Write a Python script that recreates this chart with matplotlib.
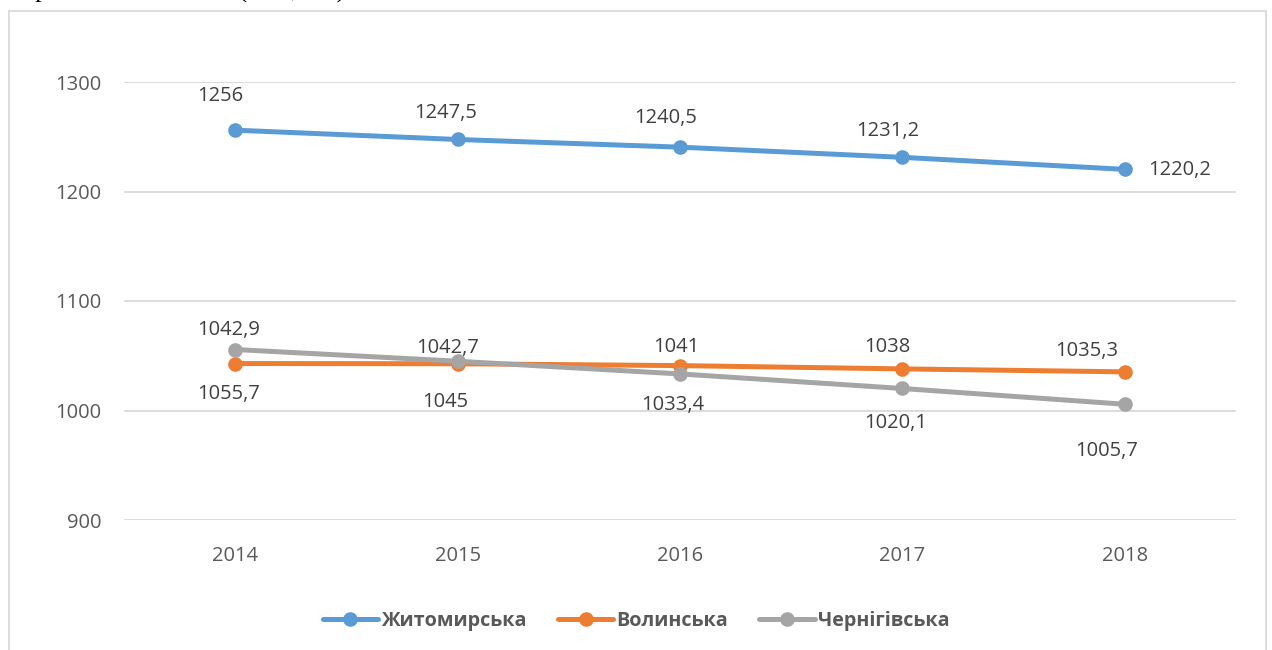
import matplotlib
matplotlib.use("Agg")
import matplotlib.pyplot as plt
from matplotlib.patches import Rectangle

plt.rcParams['font.family'] = ['Open Sans', 'DejaVu Sans']

# ---- data ----
years = ["2014", "2015", "2016", "2017", "2018"]
series_names = ["Житомирська", "Волинська", "Чернігівська"]
zhytomyr = [1256, 1247.5, 1240.5, 1231.2, 1220.2]
volyn = [1042.9, 1042.7, 1041, 1038, 1035.3]
chernihiv = [1055.7, 1045, 1033.4, 1020.1, 1005.7]
y_ticks = [900, 1000, 1100, 1200, 1300]
caption = "Прогноз населення (тис., ос.)"

# ---- styles / layout ----
colors = ["#5B9BD5", "#ED7D31", "#A5A5A5"]
# label offsets in pixels (dx, dy)
offsets = [
    [(-15, 34), (-12, 26), (-14, 29), (-15, 26), (23, -1)],
    [(-7, 34), (-10, 16), (-4, 19), (-15, 22), (-38, 21)],
    [(-7, -44), (-12, -41), (-7, -31), (-7, -35), (-18, -47)],
]
align = [["center"] * 4 + ["left"], ["center"] * 5, ["center"] * 5]

W, H = 1272, 650
fig = plt.figure(figsize=(W / 100, H / 100), dpi=100)
fig.patch.set_facecolor("white")

# chart border
fig.patches.append(Rectangle((9 / W, -0.05), (1266 - 9) / W, 1.05 - 11 / H,
                             transform=fig.transFigure, fill=False,
                             edgecolor="#D9D9D9", linewidth=1.3))

# caption line above the chart, mostly outside the picture
fig.text(16 / W, 1 + 2 / H, caption, family="Liberation Serif", fontsize=19,
         color="black", va="baseline", ha="left")

ax = fig.add_axes([124 / W, 1 - 520 / H, (1236 - 124) / W, (520 - 82) / H])
x = list(range(len(years)))
all_series = [zhytomyr, volyn, chernihiv]
for s, (vals, name, c) in enumerate(zip(all_series, series_names, colors)):
    ax.plot(x, vals, color=c, linewidth=3.6, marker="o", markersize=9.5,
            label=name, solid_capstyle="round", zorder=3)
    for i, v in enumerate(vals):
        dx, dy = offsets[s][i]
        lab = f"{v:g}".replace(".", ",")
        ax.annotate(lab, (i, v), xytext=(dx * 0.72, dy * 0.72),
                    textcoords="offset points", ha=align[s][i], va="center",
                    fontsize=14.5, color="#404040")

ax.set_xlim(-0.5, len(years) - 0.5)
ax.set_ylim(y_ticks[0], y_ticks[-1])
ax.set_yticks(y_ticks)
ax.set_xticks(x)
ax.set_xticklabels(years)
ax.grid(axis="y", color="#D9D9D9", linewidth=1.3)
ax.set_axisbelow(True)
for sp in ax.spines.values():
    sp.set_visible(False)
ax.tick_params(axis="both", length=0, labelsize=14.5, labelcolor="#595959")
ax.tick_params(axis="y", pad=16)
ax.tick_params(axis="x", pad=19)
ax.set_facecolor("none")

leg = fig.legend(loc="center", bbox_to_anchor=(0.5, 1 - 621 / H), ncol=3,
                 frameon=False, handlelength=2.8, handletextpad=0.15,
                 columnspacing=1.6, prop={"weight": "bold", "size": 14.2})
for t in leg.get_texts():
    t.set_color("#595959")

fig.savefig("out.png", dpi=100, facecolor="white")
